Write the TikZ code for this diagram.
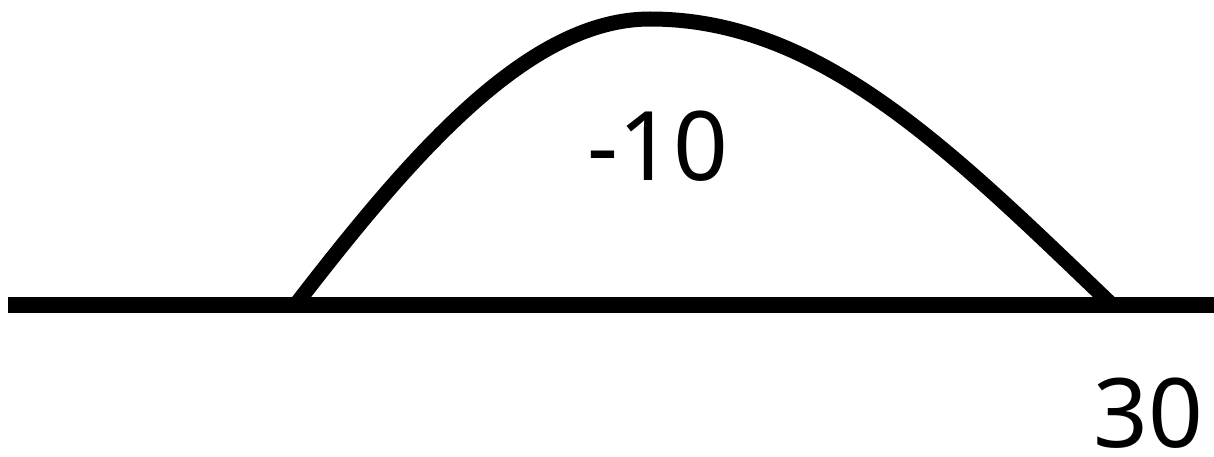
\documentclass[tikz,border=0pt]{standalone}
\usepackage{fontspec}
\setmainfont{Noto Sans}
\begin{document}
\begin{tikzpicture}[x=1pt,y=-1pt,
  axisline/.style={line width=16pt},
  bump/.style={line width=15pt, line join=round},
  lbl/.style={inner sep=0pt, anchor=base, font=\fontsize{96}{100}\selectfont}]
\useasboundingbox (0,0) rectangle (1214,457);
\coordinate (L) at (8,305);
\coordinate (R) at (1214,305);
\draw[axisline] (L) -- (R);
\coordinate (b0) at (297,303);
\coordinate (top) at (650,19);
\coordinate (b1) at (1110,303);
\draw[bump] (b0) .. controls (415,150) and (530,19) .. (top)
                 .. controls (820,19) and (950,150) .. (b1);
\node[lbl] (m10) at (658,180) {-10};
\node[lbl] (t30) at (1148,447) {30};
\end{tikzpicture}
\end{document}
